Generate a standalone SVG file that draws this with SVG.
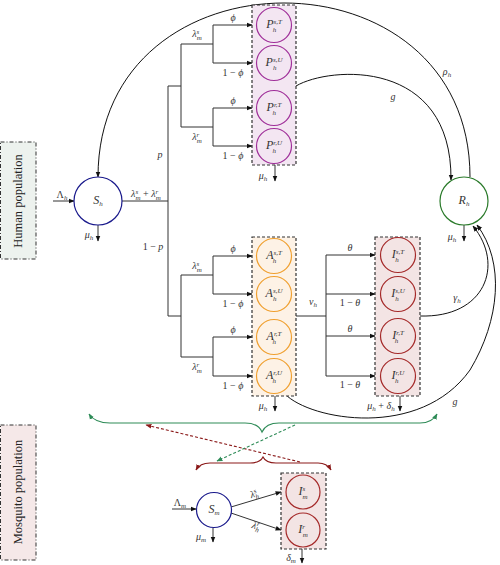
<svg xmlns="http://www.w3.org/2000/svg" width="500" height="565" viewBox="0 0 500 565">
<defs>
<style>
.ln{fill:none;stroke:#333;stroke-width:1}
.cv{fill:none;stroke:#111;stroke-width:1}
.m{font-family:"Liberation Serif","DejaVu Serif",serif;font-size:10px;font-style:italic;fill:#333}
.c{font-family:"Liberation Serif","DejaVu Serif",serif;font-size:12px;font-style:italic;fill:#333}
.s{font-size:7px}
.u{font-style:normal}
.pop{font-family:"Liberation Serif","DejaVu Serif",serif;font-size:12.5px;fill:#222}
.box{stroke:#333;stroke-width:1.2;stroke-dasharray:3,2}
.pc{fill:none;stroke:#a0309a;stroke-width:1.2}
.ac{fill:none;stroke:#f0a030;stroke-width:1.2}
.ic{fill:none;stroke:#a52a2a;stroke-width:1.2}
</style>
<marker id="ah" viewBox="0 0 10 10" refX="9" refY="5" markerWidth="6" markerHeight="6" markerUnits="userSpaceOnUse" orient="auto-start-reverse"><path d="M0,1 L10,5 L0,9 z" fill="#111"/></marker>
<marker id="ag" viewBox="0 0 10 10" refX="9" refY="5" markerWidth="6" markerHeight="6" markerUnits="userSpaceOnUse" orient="auto-start-reverse"><path d="M0,1 L10,5 L0,9 z" fill="#2e8b57"/></marker>
<marker id="ar" viewBox="0 0 10 10" refX="9" refY="5" markerWidth="6" markerHeight="6" markerUnits="userSpaceOnUse" orient="auto-start-reverse"><path d="M0,1 L10,5 L0,9 z" fill="#8b1a1a"/></marker>
</defs>

<g id="human-label">
<rect x="0.5" y="142" width="35.5" height="117" fill="#edf2ee" stroke="#333" stroke-dasharray="4,2,1,2"/>
<text class="pop" transform="translate(22,201) rotate(-90)" text-anchor="middle">Human population</text>
</g>
<g id="mosquito-label">
<rect x="0.5" y="425" width="35.5" height="135" fill="#f5e8e8" stroke="#333" stroke-dasharray="4,2,1,2"/>
<text class="pop" transform="translate(22,492) rotate(-90)" text-anchor="middle">Mosquito population</text>
</g>

<g id="connectors">
<path class="ln" d="M53,201 H74" marker-end="url(#ah)"/>
<path class="ln" d="M98,225 V241" marker-end="url(#ah)"/>
<path class="ln" d="M122,201 H168 M168,86 V316 M168,86 H181 M181,44 V127 M181,44 H213 M181,127 H213 M213,25 V63 M213,108 V146"/>
<path class="ln" d="M213,25 H252" marker-end="url(#ah)"/>
<path class="ln" d="M213,63 H252" marker-end="url(#ah)"/>
<path class="ln" d="M213,108 H252" marker-end="url(#ah)"/>
<path class="ln" d="M213,146 H252" marker-end="url(#ah)"/>
<path class="ln" d="M168,316 H181 M181,275 V357 M181,275 H213 M181,357 H213 M213,256 V294 M213,337 V376"/>
<path class="ln" d="M213,256 H252" marker-end="url(#ah)"/>
<path class="ln" d="M213,294 H252" marker-end="url(#ah)"/>
<path class="ln" d="M213,337 H252" marker-end="url(#ah)"/>
<path class="ln" d="M213,376 H252" marker-end="url(#ah)"/>
<path class="ln" d="M296,316 H326 M326,255 V376"/>
<path class="ln" d="M326,255 H375" marker-end="url(#ah)"/>
<path class="ln" d="M326,294 H375" marker-end="url(#ah)"/>
<path class="ln" d="M326,336 H375" marker-end="url(#ah)"/>
<path class="ln" d="M326,376 H375" marker-end="url(#ah)"/>
<path class="ln" d="M275,165 V181" marker-end="url(#ah)"/>
<path class="ln" d="M275,396 V411" marker-end="url(#ah)"/>
<path class="ln" d="M400,396 V411" marker-end="url(#ah)"/>
<path class="ln" d="M464,225 V241" marker-end="url(#ah)"/>
<path class="cv" d="M470,177 C470,-55 98,-55 98,177" marker-end="url(#ah)"/>
<path class="cv" d="M296,86 C330,66 452,58 451,180" marker-end="url(#ah)"/>
<path class="cv" d="M420,316 C485,318 505,265 473,226" marker-end="url(#ah)"/>
<path class="cv" d="M285,394 C310,420 420,440 470,370 C500,320 505,262 477,225" marker-end="url(#ah)"/>
<path d="M89,414 Q95,423 110,423 L245,423 Q258,423 262,432 Q266,423 279,423 L420,423 Q432,423 437,414" fill="none" stroke="#2e8b57" stroke-width="1.2" marker-start="url(#ag)" marker-end="url(#ag)"/>
<path d="M196,470 Q200,463 210,463 L250,463 Q260,463 263,457 Q266,463 276,463 L318,463 Q327,463 331,470" fill="none" stroke="#8b1a1a" stroke-width="1.2" marker-start="url(#ar)" marker-end="url(#ar)"/>
<path d="M300,462 L146,425" fill="none" stroke="#8b1a1a" stroke-width="1.1" stroke-dasharray="3,2" marker-end="url(#ar)"/>
<path d="M295,425 L217,461" fill="none" stroke="#2e8b57" stroke-width="1.1" stroke-dasharray="3,2" marker-end="url(#ag)"/>
<path class="ln" d="M172,509 H196" marker-end="url(#ah)"/>
<path class="ln" d="M213,528 V542" marker-end="url(#ah)"/>
<path class="ln" d="M231,507 L281,492" marker-end="url(#ah)"/>
<path class="ln" d="M231,513 L281,530" marker-end="url(#ah)"/>
<path class="ln" d="M302,549 V563" marker-end="url(#ah)"/>
</g>

<g id="labels">
<text class="m" x="62" y="198" text-anchor="middle"><tspan class="u">Λ</tspan><tspan class="s" dy="2">h</tspan></text>
<text class="m" x="89" y="238" text-anchor="middle">μ<tspan class="s" dy="2">h</tspan></text>
<text class="m" x="146" y="197" text-anchor="middle">λ<tspan class="s" dy="-3.5">s</tspan><tspan class="s" dx="-2.7" dy="6">m</tspan><tspan class="u" dy="-2.5"> + </tspan>λ<tspan class="s" dy="-3.5">r</tspan><tspan class="s" dx="-2.4" dy="6">m</tspan></text>
<text class="m" x="160" y="158" text-anchor="middle">p</text>
<text class="m" x="153" y="250" text-anchor="middle"><tspan class="u">1 − </tspan>p</text>
<text class="m" x="197" y="37" text-anchor="middle">λ<tspan class="s" dy="-3.5">s</tspan><tspan class="s" dx="-2.7" dy="6">m</tspan></text>
<text class="m" x="197" y="140" text-anchor="middle">λ<tspan class="s" dy="-3.5">r</tspan><tspan class="s" dx="-2.4" dy="6">m</tspan></text>
<text class="m" x="233" y="21" text-anchor="middle">ϕ</text>
<text class="m" x="233" y="76" text-anchor="middle"><tspan class="u">1 − </tspan>ϕ</text>
<text class="m" x="233" y="104" text-anchor="middle">ϕ</text>
<text class="m" x="233" y="159" text-anchor="middle"><tspan class="u">1 − </tspan>ϕ</text>
<text class="m" x="263" y="179" text-anchor="middle">μ<tspan class="s" dy="2">h</tspan></text>
<text class="m" x="197" y="269" text-anchor="middle">λ<tspan class="s" dy="-3.5">s</tspan><tspan class="s" dx="-2.7" dy="6">m</tspan></text>
<text class="m" x="197" y="370" text-anchor="middle">λ<tspan class="s" dy="-3.5">r</tspan><tspan class="s" dx="-2.4" dy="6">m</tspan></text>
<text class="m" x="233" y="252" text-anchor="middle">ϕ</text>
<text class="m" x="233" y="307" text-anchor="middle"><tspan class="u">1 − </tspan>ϕ</text>
<text class="m" x="233" y="333" text-anchor="middle">ϕ</text>
<text class="m" x="233" y="389" text-anchor="middle"><tspan class="u">1 − </tspan>ϕ</text>
<text class="m" x="263" y="409" text-anchor="middle">μ<tspan class="s" dy="2">h</tspan></text>
<text class="m" x="313" y="305" text-anchor="middle">ν<tspan class="s" dy="2">h</tspan></text>
<text class="m" x="350" y="251" text-anchor="middle">θ</text>
<text class="m" x="350" y="306" text-anchor="middle"><tspan class="u">1 − </tspan>θ</text>
<text class="m" x="350" y="332" text-anchor="middle">θ</text>
<text class="m" x="350" y="388" text-anchor="middle"><tspan class="u">1 − </tspan>θ</text>
<text class="m" x="381" y="409" text-anchor="middle">μ<tspan class="s" dy="2">h</tspan><tspan class="u" dy="-2"> + </tspan>δ<tspan class="s" dy="2">h</tspan></text>
<text class="m" x="452" y="240" text-anchor="middle">μ<tspan class="s" dy="2">h</tspan></text>
<text class="m" x="447" y="75" text-anchor="middle">ρ<tspan class="s" dy="2">h</tspan></text>
<text class="m" x="393" y="100" text-anchor="middle">g</text>
<text class="m" x="457" y="301" text-anchor="middle">γ<tspan class="s" dy="2">h</tspan></text>
<text class="m" x="455" y="405" text-anchor="middle">g</text>
<text class="m" x="180" y="506" text-anchor="middle"><tspan class="u">Λ</tspan><tspan class="s" dy="2">m</tspan></text>
<text class="m" x="201" y="540" text-anchor="middle">μ<tspan class="s" dy="2">m</tspan></text>
<text class="m" x="255" y="497" text-anchor="middle" transform="rotate(-17 255 497)">λ<tspan class="s" dy="-3.5">s</tspan><tspan class="s" dx="-2.7" dy="6">h</tspan></text>
<text class="m" x="255" y="529" text-anchor="middle" transform="rotate(18 255 529)">λ<tspan class="s" dy="-3.5">r</tspan><tspan class="s" dx="-2.4" dy="6">h</tspan></text>
<text class="m" x="291" y="561" text-anchor="middle">δ<tspan class="s" dy="2">m</tspan></text>
</g>

<g id="S_h"><circle cx="98" cy="201" r="24" fill="#fff" stroke="#1a1a8c" stroke-width="1.2"/><text class="c" x="98" y="204" text-anchor="middle">S<tspan class="s" dy="2">h</tspan></text></g>
<g id="R_h"><circle cx="464" cy="201" r="24" fill="#fff" stroke="#2a7a2a" stroke-width="1.2"/><text class="c" x="464" y="204" text-anchor="middle">R<tspan class="s" dy="2">h</tspan></text></g>

<g id="P_h">
<rect class="box" x="252" y="5" width="44" height="160" fill="#f3e6f2"/>
<circle class="pc" cx="274" cy="25" r="17.5"/><text class="c" x="274" y="28" text-anchor="middle">P<tspan class="s" dy="-4.5">s,T</tspan><tspan class="s" dx="-9" dy="8">h</tspan></text>
<circle class="pc" cx="274" cy="63" r="17.5"/><text class="c" x="274" y="66" text-anchor="middle">P<tspan class="s" dy="-4.5">s,U</tspan><tspan class="s" dx="-9.5" dy="8">h</tspan></text>
<circle class="pc" cx="274" cy="108" r="17.5"/><text class="c" x="274" y="111" text-anchor="middle">P<tspan class="s" dy="-4.5">r,T</tspan><tspan class="s" dx="-9" dy="8">h</tspan></text>
<circle class="pc" cx="274" cy="146" r="17.5"/><text class="c" x="274" y="149" text-anchor="middle">P<tspan class="s" dy="-4.5">r,U</tspan><tspan class="s" dx="-9.5" dy="8">h</tspan></text>
</g>

<g id="A_h">
<rect class="box" x="252" y="237" width="44" height="159" fill="#fdf2e6"/>
<circle class="ac" cx="274" cy="256" r="17.5"/><text class="c" x="274" y="259" text-anchor="middle">A<tspan class="s" dy="-4.5">s,T</tspan><tspan class="s" dx="-9" dy="8">h</tspan></text>
<circle class="ac" cx="274" cy="294" r="17.5"/><text class="c" x="274" y="297" text-anchor="middle">A<tspan class="s" dy="-4.5">s,U</tspan><tspan class="s" dx="-9.5" dy="8">h</tspan></text>
<circle class="ac" cx="274" cy="337" r="17.5"/><text class="c" x="274" y="340" text-anchor="middle">A<tspan class="s" dy="-4.5">r,T</tspan><tspan class="s" dx="-9" dy="8">h</tspan></text>
<circle class="ac" cx="274" cy="376" r="17.5"/><text class="c" x="274" y="379" text-anchor="middle">A<tspan class="s" dy="-4.5">r,U</tspan><tspan class="s" dx="-9.5" dy="8">h</tspan></text>
</g>

<g id="I_h">
<rect class="box" x="375" y="237" width="45" height="159" fill="#f3e4e4"/>
<circle class="ic" cx="398" cy="255" r="17.5"/><text class="c" x="398" y="258" text-anchor="middle">I<tspan class="s" dy="-4.5">s,T</tspan><tspan class="s" dx="-9" dy="8">h</tspan></text>
<circle class="ic" cx="398" cy="294" r="17.5"/><text class="c" x="398" y="297" text-anchor="middle">I<tspan class="s" dy="-4.5">s,U</tspan><tspan class="s" dx="-9.5" dy="8">h</tspan></text>
<circle class="ic" cx="398" cy="336" r="17.5"/><text class="c" x="398" y="339" text-anchor="middle">I<tspan class="s" dy="-4.5">r,T</tspan><tspan class="s" dx="-9" dy="8">h</tspan></text>
<circle class="ic" cx="398" cy="376" r="17.5"/><text class="c" x="398" y="379" text-anchor="middle">I<tspan class="s" dy="-4.5">r,U</tspan><tspan class="s" dx="-9.5" dy="8">h</tspan></text>
</g>

<g id="S_m"><circle cx="214" cy="510" r="17.5" fill="#fff" stroke="#1a1a8c" stroke-width="1.2"/><text class="c" x="214" y="513" text-anchor="middle">S<tspan class="s" dy="2">m</tspan></text></g>

<g id="I_m">
<rect class="box" x="281" y="473" width="45" height="76" fill="#f3e4e4"/>
<circle class="ic" cx="303" cy="492" r="17"/><text class="c" x="303" y="495" text-anchor="middle">I<tspan class="s" dy="-4.5">s</tspan><tspan class="s" dx="-2.7" dy="8">m</tspan></text>
<circle class="ic" cx="303" cy="530" r="17"/><text class="c" x="303" y="533" text-anchor="middle">I<tspan class="s" dy="-4.5">r</tspan><tspan class="s" dx="-2.4" dy="8">m</tspan></text>
</g>
</svg>
